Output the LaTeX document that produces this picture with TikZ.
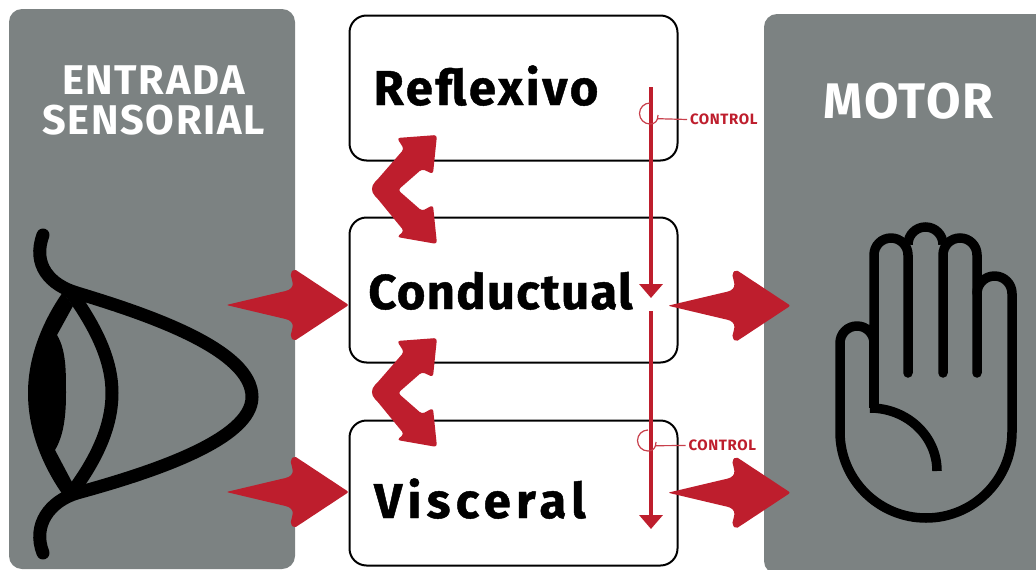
\documentclass[tikz,border=0pt]{standalone}
\usepackage{fontspec}
\setmainfont{Fira Sans}
\usetikzlibrary{arrows.meta}
\definecolor{panelgray}{HTML}{7C8282}
\definecolor{ctrlred}{HTML}{BE1E2D}
\newfontfamily\stagefont[LetterSpace=5.5,FakeBold=0.9]{Fira Sans Bold}
\newfontfamily\condfont[LetterSpace=2.6,FakeBold=0.9]{Fira Sans Bold}
\newfontfamily\visfont[LetterSpace=11,FakeBold=0.9]{Fira Sans Bold}
\newfontfamily\headfont[LetterSpace=4]{Fira Sans Bold}
\newfontfamily\ctrlfont[LetterSpace=4]{Fira Sans Bold}
\tikzset{
  panel/.style={fill=panelgray,rounded corners=13pt,inner sep=0pt,outer sep=0pt},
  stagebox/.style={draw=black,line width=2pt,fill=white,rounded corners=17pt,minimum width=328pt,minimum height=145pt,inner sep=0pt},
  stagetext/.style={anchor=base,inner sep=0pt,font=\stagefont\fontsize{49}{49}\selectfont},
  headtext/.style={anchor=base,inner sep=0pt,text=white,font=\headfont\fontsize{41.5}{41.5}\selectfont},
  ctrltext/.style={anchor=west,inner sep=0pt,outer sep=3pt,text=ctrlred,font=\ctrlfont\fontsize{15}{15}\selectfont},
  ctrlline/.style={draw=ctrlred,line width=3.6pt,-{Triangle[length=14pt,width=23pt]}},
  ctrlthin/.style={draw=ctrlred!85!white,line width=1.2pt},
  blockarrow/.pic={
    \fill[ctrlred,rounded corners=2pt] (-2,0) -- (55,13.5) .. controls (62,15) and (65,18) .. (64,24) -- (62,32) -- (66,36) -- (120.5,0)
      -- (66,-36) -- (62,-32) -- (64,-24) .. controls (65,-18) and (62,-15) .. (55,-13.5) -- cycle;
  },
  bentarrow/.pic={
    \fill[ctrlred,rounded corners=3pt] (38,55) -- (-2,52) -- (5,41) -- (-22,10) .. controls (-28,4) and (-28,-2) .. (-22,-8) -- (5,-41) -- (-2,-47) -- (38,-54) -- (34,-15) -- (23,-21) -- (-1,0) -- (23,21) -- (34,16) -- cycle;
  },
}
\begin{document}
\begin{tikzpicture}[x=1pt,y=1pt]
  \clip (0,0) rectangle (1036,-570);
  % panels
  \node[panel,minimum width=286pt,minimum height=560pt] (entrada) at (152,-289) {};
  \node[panel,minimum width=300pt,minimum height=560pt] (motor) at (914,-294) {};
  \node[headtext] (entradatext) at (153.5,-94) {ENTRADA};
  \node[headtext] (sensorialtext) at (153.5,-134) {SENSORIAL};
  \node[headtext,font=\headfont\fontsize{50}{50}\selectfont] (motortext) at (908.5,-118) {MOTOR};
  % stages
  \node[stagebox] (reflexivo) at (513.5,-88) {};
  \node[stagebox] (conductual) at (513.5,-290) {};
  \node[stagebox] (visceral) at (513.5,-493) {};
  \node[stagetext] (reflexivotext) at (486,-105) {Reflexivo};
  \node[stagetext,font=\condfont\fontsize{49}{49}\selectfont] (conductualtext) at (500.5,-309) {Conductual};
  \node[stagetext,font=\visfont\fontsize{49}{49}\selectfont] (visceraltext) at (480,-518) {Visceral};
  % eye
  \draw[black,line width=13pt,line cap=round] (43,-235) .. controls (32,-265) and (50,-285) .. (77,-293) .. controls (150,-315) and (252,-350) .. (252,-397)
    .. controls (252,-440) and (150,-473) .. (77,-493) .. controls (50,-501) and (32,-525) .. (43,-553);
  \fill[black] (63,-292) .. controls (40,-325) and (28,-360) .. (28,-393) .. controls (28,-430) and (42,-465) .. (63,-495) -- (73,-484) -- (55,-450)
    .. controls (64,-435) and (66,-415) .. (66,-393) .. controls (66,-370) and (66,-350) .. (57,-335) -- (73,-306) -- cycle;
  \draw[black,line width=13pt] (70,-291) .. controls (98,-330) and (112,-362) .. (112,-393) .. controls (112,-425) and (98,-458) .. (70,-495);
  % hand
  \draw[black,line width=9.5pt,line cap=round,line join=round] (908,-373) -- (908,-255) arc (0:180:17) -- (874,-343) arc (0:180:17) -- (840,-432) arc (180:360:86) -- (1012,-293.5) arc (0:180:17.5);
  \draw[black,line width=9.5pt,line cap=round] (977,-373) -- (977,-255) arc (0:180:17) -- (943,-373);
  \draw[black,line width=9.5pt] (908,-244.5) arc (180:0:17.5);
  \draw[black,line width=9.5pt] (874,-343) -- (874,-408);
  \draw[black,line width=9.5pt] (870,-408) arc (90:0:67 and 63);
  % control lines
  \coordinate (ctrltop) at (651,-87);
  \coordinate (ctrlmid) at (651,-298);
  \coordinate (ctrlnext) at (651,-311);
  \coordinate (ctrlend) at (651,-529);
  \draw[ctrlline] (ctrltop) -- (ctrlmid);
  \draw[ctrlline] (ctrlnext) -- (ctrlend);
  \node[ctrltext] (controlA) at (687,-119.5) {CONTROL};
  \node[ctrltext] (controlB) at (685.5,-445.5) {CONTROL};
  \coordinate (hookA) at (658,-118.7);
  \coordinate (hookB) at (656,-445.7);
  \draw[ctrlthin] (650,-103) arc (90:270:10.5) .. controls (655,-124) and (658,-121) .. (658,-115);
  \draw[ctrlthin] (hookA) -- (controlA.west);
  \draw[ctrlthin] (648,-430) arc (90:270:10.5) .. controls (653,-451) and (656,-448) .. (656,-442);
  \draw[ctrlthin] (hookB) -- (controlB.west);
  % arrows
  \pic at (228.3,-305) {blockarrow};
  \pic at (228.3,-492) {blockarrow};
  \pic at (670,-305.7) {blockarrow};
  \pic at (670,-492.7) {blockarrow};
  \pic at (399,-190) {bentarrow};
  \pic at (399,-393) {bentarrow};
\end{tikzpicture}
\end{document}
